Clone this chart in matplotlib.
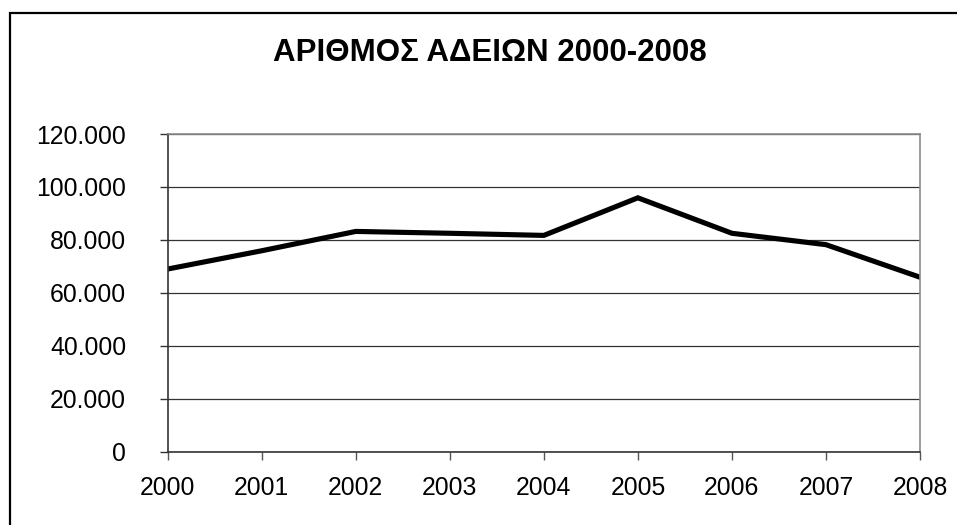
import matplotlib
matplotlib.use("Agg")
import matplotlib.pyplot as plt
from matplotlib.patches import Rectangle
from matplotlib.ticker import FuncFormatter

plt.rcParams['font.family'] = ['Liberation Sans', 'DejaVu Sans']

# data
years = [2000, 2001, 2002, 2003, 2004, 2005, 2006, 2007, 2008]
permits = [69000, 75900, 83200, 82500, 81700, 95900, 82500, 78200, 65900]
y_ticks = [0, 20000, 40000, 60000, 80000, 100000, 120000]
title = "ΑΡΙΘΜΟΣ ΑΔΕΙΩΝ 2000-2008"

W, H = 957, 525
fig = plt.figure(figsize=(W / 100, H / 100), dpi=100)

# outer chart frame (cropped at right and bottom)
fig.patches.append(Rectangle((10 / W, -0.1), 1.2, 1.1 - 13 / H, transform=fig.transFigure,
                             fill=False, edgecolor='black', linewidth=1.6))

ax = fig.add_axes([167.7 / W, 1 - 451.7 / H, (920 - 167.7) / W, (451.7 - 134) / H])
ax.plot(years, permits, color='black', linewidth=3.7, solid_joinstyle='miter')

ax.set_xlim(years[0], years[-1])
ax.set_ylim(y_ticks[0], y_ticks[-1])
ax.set_xticks(years)
ax.set_yticks(y_ticks)
ax.yaxis.set_major_formatter(FuncFormatter(lambda v, p: f"{int(v):,}".replace(",", ".")))

ax.grid(axis='y', color='#333333', linewidth=0.9)
ax.set_axisbelow(True)

for side in ['top', 'right']:
    ax.spines[side].set_color('#8c8c8c')
    ax.spines[side].set_linewidth(1.2)
ax.spines['left'].set_color('#333333')
ax.spines['bottom'].set_color('#333333')
ax.spines['left'].set_linewidth(1.2)
ax.spines['bottom'].set_linewidth(1.2)

ax.tick_params(axis='y', direction='out', length=6, width=1, color='#333333',
               labelsize=17.8, pad=24)
ax.tick_params(axis='x', direction='out', length=5.5, width=1, color='#555555',
               labelsize=17.8, pad=12)

fig.text(490 / W, 1 - 53 / H, title, ha='center', va='center',
         fontsize=22.5, fontweight='bold')

fig.savefig("out.png", dpi=100, facecolor='white')
